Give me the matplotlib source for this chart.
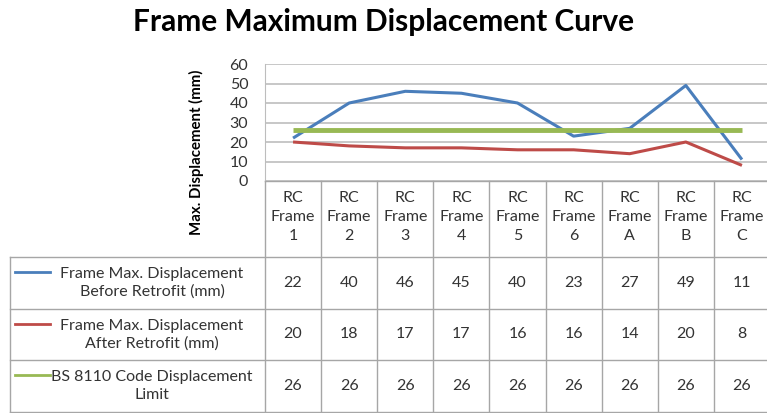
import numpy as np
import matplotlib.pyplot as plt
import matplotlib.transforms as mtransforms

plt.rcParams['font.family'] = ['Lato', 'DejaVu Sans']

# Dados do gráfico
categorias = ["RC\nFrame\n1", "RC\nFrame\n2", "RC\nFrame\n3", "RC\nFrame\n4", "RC\nFrame\n5",
              "RC\nFrame\n6", "RC\nFrame\nA", "RC\nFrame\nB", "RC\nFrame\nC"]
antes = [22, 40, 46, 45, 40, 23, 27, 49, 11]
depois = [20, 18, 17, 17, 16, 16, 14, 20, 8]
limite = [26, 26, 26, 26, 26, 26, 26, 26, 26]
nomes = ["Frame Max. Displacement\nBefore Retrofit (mm)",
         "Frame Max. Displacement\nAfter Retrofit (mm)",
         "BS 8110 Code Displacement\nLimit"]
cores = ['#4A7EBB', '#BE4B48', '#98B954']
larguras = [2.2, 2.2, 3.5]
y_ticks = [0, 10, 20, 30, 40, 50, 60]

W, H = 767, 413
fig = plt.figure(figsize=(W / 100, H / 100), dpi=100)


def fy(py):
    # pixel (de cima) -> coordenada da figura
    return (H - py) / H


def fx(px):
    return px / W


ax = fig.add_axes([fx(265), fy(181), fx(505), fy(64) - fy(181)])
x = np.arange(len(categorias))
series = [antes, depois, limite]
for vals, cor, lw in zip(series, cores, larguras):
    ax.plot(x, vals, color=cor, lw=lw, solid_capstyle='butt', zorder=3)

ax.set_xlim(-0.5, len(categorias) - 0.5)
ax.set_ylim(0, 60)
ax.set_yticks(y_ticks)
ax.set_xticks([])
ax.tick_params(axis='y', length=0, pad=12, labelsize=11.5, labelcolor='#333333')
ax.grid(axis='y', color='#BDBDBD', lw=1.2)
ax.set_axisbelow(True)
for s in ['top', 'right', 'bottom']:
    ax.spines[s].set_visible(False)
ax.spines['left'].set_color('#BDBDBD')

# Título e rótulo do eixo
fig.text(0.5, fy(22), "Frame Maximum Displacement Curve", ha='center', va='center',
         fontsize=21.5, fontweight='bold', color='black')
fig.text(fx(196), fy(152), "Max. Displacement (mm)", rotation=90, ha='center', va='center',
         fontsize=10.8, fontweight='bold', color='black')

# Tabela de dados
tr = mtransforms.blended_transform_factory(ax.transData, fig.transFigure)
cor_tab = '#A6A6A6'
linhas_y = [257, 309, 360, 412]
for k in range(len(categorias) + 1):
    ax.plot([k - 0.5, k - 0.5], [fy(181), fy(412)], transform=tr, color=cor_tab,
            lw=1, clip_on=False)
fig.add_artist(plt.Line2D([fx(265), 1], [fy(181), fy(181)], color=cor_tab, lw=1))
for py in linhas_y:
    fig.add_artist(plt.Line2D([fx(10), 1], [fy(py), fy(py)], color=cor_tab, lw=1))
fig.add_artist(plt.Line2D([fx(10), fx(10)], [fy(257), fy(412)], color=cor_tab, lw=1))

for i, cat in enumerate(categorias):
    ax.text(i, fy(217), cat, transform=tr, ha='center', va='center', fontsize=11.5,
            color='#333333', linespacing=1.45)

for r, (vals, nome, cor) in enumerate(zip(series, nomes, cores)):
    topo, base = linhas_y[r], linhas_y[r + 1]
    meio = (topo + base) / 2
    for i, v in enumerate(vals):
        ax.text(i, fy(meio), str(v), transform=tr, ha='center', va='center',
                fontsize=11.5, color='#333333')
    fig.add_artist(plt.Line2D([fx(15), fx(50)], [fy(meio - 11), fy(meio - 11)],
                              color=cor, lw=2))
    fig.text(fx(152), fy(meio), nome, ha='center', va='center', fontsize=11.5,
             color='#333333', linespacing=1.3)

fig.savefig("out.png", dpi=100)
